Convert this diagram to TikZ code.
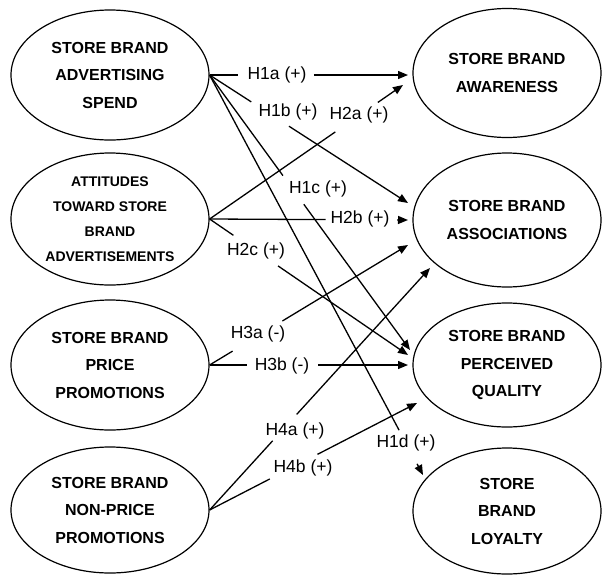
\documentclass[tikz,border=0pt]{standalone}
\usepackage{fontspec}
\setmainfont{Liberation Sans}
\usetikzlibrary{shapes.geometric,arrows.meta,calc}
\newcommand\hypconn[7]{%
  \draw (#1) -- ($(#1)!#3!(#2)$);
  \draw[arr] ($(#1)!#4!(#2)$) -- (#2);
  \node[hyp] (#5) at (#6) {#7};}
\begin{document}
\begin{tikzpicture}[x=1pt,y=-1pt,line width=1.3pt,
  oval/.style={ellipse,draw,line width=1.2pt,inner sep=0pt,align=center,
    font=\bfseries\fontsize{16}{27.5}\selectfont},
  lov/.style={oval,minimum width=198pt},
  rov/.style={oval,minimum width=188pt},
  hyp/.style={font=\fontsize{17.5}{20}\selectfont,inner sep=0pt},
  arr/.style={-{Triangle[length=10pt,width=8pt]}}
]
\useasboundingbox (0,0) rectangle (602,574);
% left constructs
\node[lov,minimum height=130pt] (adv) at (110,75) {STORE BRAND\\ADVERTISING\\SPEND};
\node[lov,minimum height=132pt,font=\bfseries\fontsize{14}{25}\selectfont] (att) at (110,219) {ATTITUDES\\TOWARD STORE\\BRAND\\ADVERTISEMENTS};
\node[lov,minimum height=130pt] (price) at (110,365) {STORE BRAND\\PRICE\\PROMOTIONS};
\node[lov,minimum height=126pt] (nonprice) at (110,510) {STORE BRAND\\NON-PRICE\\PROMOTIONS};
% right constructs
\node[rov,minimum height=129pt] (aware) at (507,73) {STORE BRAND\\AWARENESS};
\node[rov,minimum height=134pt] (assoc) at (507,220) {STORE BRAND\\ASSOCIATIONS};
\node[rov,minimum height=124pt] (qual) at (507,365) {STORE BRAND\\PERCEIVED\\QUALITY};
\node[rov,minimum height=126pt] (loyal) at (507,511) {STORE\\BRAND\\LOYALTY};
% arrow tips
\coordinate (tA1) at (408,75);
\coordinate (tA2) at (403,85);
\coordinate (tS1) at (408,203);
\coordinate (tS2) at (408,220);
\coordinate (tS3) at (408,245);
\coordinate (tS4) at (430,268);
\coordinate (tQ1) at (410,350);
\coordinate (tQ2) at (408,355);
\coordinate (tQ3) at (408,365);
\coordinate (tQ4) at (417,403);
\coordinate (tL1) at (423,475);
% hypotheses
\hypconn{adv.east}{tA1}{0.145}{0.525}{h1a}{277,75}{H1a (+)}
\hypconn{adv.east}{tS1}{0.21}{0.40}{h1b}{288,112}{H1b (+)}
\hypconn{adv.east}{tQ1}{0.366}{0.47}{h1c}{318,189}{H1c (+)}
\hypconn{adv.east}{tL1}{0.888}{0.972}{h1d}{406,443}{H1d (+)}
\hypconn{att.east}{tA2}{0.65}{0.87}{h2a}{359,115}{H2a (+)}
\hypconn{att.east}{tS2}{0.585}{0.945}{h2b}{360,219}{H2b (+)}
\hypconn{att.east}{tQ2}{0.12}{0.345}{h2c}{256,251}{H2c (+)}
\hypconn{price.east}{tS3}{0.116}{0.367}{h3a}{258,334}{H3a (-)}
\hypconn{price.east}{tQ3}{0.19}{0.548}{h3b}{282,366}{H3b (-)}
\hypconn{nonprice.east}{tS4}{0.286}{0.395}{h4a}{295,431}{H4a (+)}
\hypconn{nonprice.east}{tQ4}{0.29}{0.52}{h4b}{303,468}{H4b (+)}
\end{tikzpicture}
\end{document}
